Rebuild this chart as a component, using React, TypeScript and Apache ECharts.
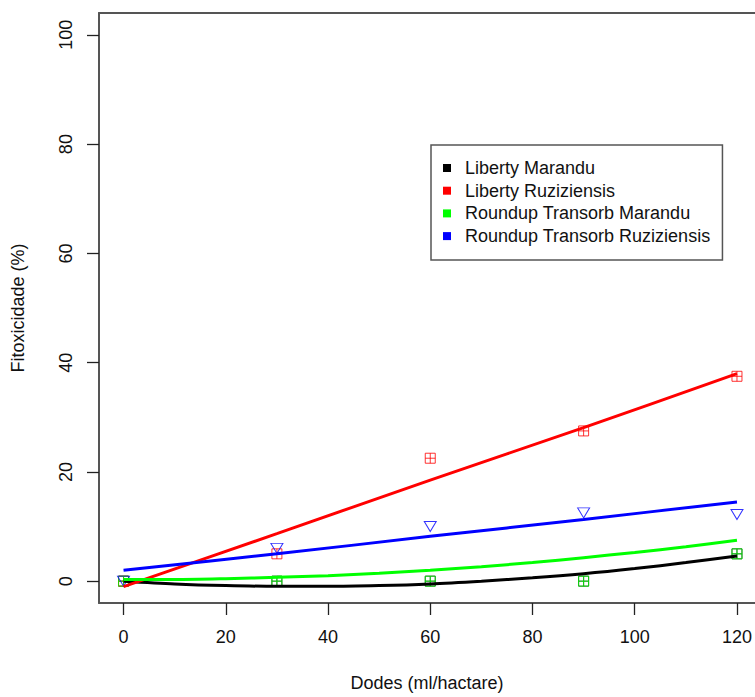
import React, { useEffect, useRef } from "react";
import * as echarts from "echarts";

// observed doses
const doses = [0, 30, 60, 90, 120];
// observed phytotoxicity (%)
const obsLibertyMarandu = [0, 0, 0, 0, 5];
const obsLibertyRuziziensis = [0, 5, 22.5, 27.5, 37.5];
const obsRoundupMarandu = [0, 0, 0, 0, 5];
const obsRoundupRuziziensis = [0, 6, 10, 12.5, 12.2];

// fitted curves
const fitXFine = [0, 10, 20, 30, 40, 50, 60, 70, 80, 90, 100, 110, 120];
const fitLibertyMarandu = [0, -0.5, -0.8, -0.95, -0.95, -0.8, -0.5, 0, 0.6, 1.35, 2.3, 3.4, 4.6];
const fitRoundupMarandu = [0.3, 0.3, 0.45, 0.7, 1.0, 1.45, 2.0, 2.65, 3.4, 4.3, 5.25, 6.3, 7.5];
const fitXCoarse = [0, 30, 60, 90, 120];
const fitLibertyRuziziensis = [-1, 8.7, 18.5, 28.1, 38];
const fitRoundupRuziziensis = [2.0, 5.0, 8.2, 11.3, 14.5];

const seriesNames = [
  "Liberty Marandu",
  "Liberty Ruziziensis",
  "Roundup Transorb Marandu",
  "Roundup Transorb Ruziziensis",
];
const seriesColors = ["#000000", "#ff0000", "#00ff00", "#0000ff"];

const xTicks = [0, 20, 40, 60, 80, 100, 120];
const yTicks = [0, 20, 40, 60, 80, 100];

const FONT = "'Liberation Sans', Arial, sans-serif";
const SQUARE_PLUS = "path://M0,0H10V10H0Z M5,0V10 M0,5H10";

export default function App() {
  const ref = useRef<HTMLDivElement>(null);

  useEffect(() => {
    if (!ref.current) return;
    const chart = echarts.init(ref.current, null, { renderer: "svg" });

    const pairs = (xs: number[], ys: number[]) => xs.map((x, i) => [x, ys[i]]);

    const fits = [
      pairs(fitXFine, fitLibertyMarandu),
      pairs(fitXCoarse, fitLibertyRuziziensis),
      pairs(fitXFine, fitRoundupMarandu),
      pairs(fitXCoarse, fitRoundupRuziziensis),
    ];
    const obs = [
      pairs(doses, obsLibertyMarandu),
      pairs(doses, obsLibertyRuziziensis),
      pairs(doses, obsRoundupMarandu),
      pairs(doses, obsRoundupRuziziensis),
    ];

    const lineSeries = seriesNames.map((name, i) => ({
      name,
      type: "line",
      data: fits[i],
      smooth: 0.3,
      showSymbol: false,
      symbol: "none",
      z: 3,
      color: seriesColors[i],
      itemStyle: { color: seriesColors[i] },
      lineStyle: { color: seriesColors[i], width: 3 },
    }));

    const scatterSeries = seriesNames.map((name, i) => ({
      name: name + " (observado)",
      type: "scatter",
      data: obs[i],
      z: 2,
      symbol: i === 3 ? "triangle" : SQUARE_PLUS,
      symbolRotate: i === 3 ? 180 : 0,
      symbolSize: i === 3 ? [12, 10] : 10,
      itemStyle: { color: "none", borderColor: seriesColors[i], borderWidth: 1 },
    }));

    chart.setOption({
      animation: false,
      backgroundColor: "#ffffff",
      textStyle: { fontFamily: FONT },
      grid: { left: 99, top: 13, right: 0, bottom: 91, containLabel: false },
      legend: {
        data: seriesNames,
        orient: "vertical",
        left: 431,
        top: 145,
        icon: "rect",
        itemWidth: 8,
        itemHeight: 8,
        itemGap: 4.7,
        selectedMode: false,
        borderColor: "#555555",
        borderWidth: 1.5,
        padding: [14, 12, 15, 12],
        textStyle: { fontSize: 18, color: "#111111", fontFamily: FONT, padding: [0, 0, 0, 9] },
      },
      xAxis: [
        {
          type: "value",
          min: -4.8,
          max: 123.5,
          name: "Dodes (ml/hactare)",
          nameLocation: "middle",
          nameGap: 71,
          nameTextStyle: { fontSize: 18, color: "#111111", fontFamily: FONT },
          splitLine: { show: false },
          axisLine: { show: true, onZero: false, lineStyle: { color: "#555555", width: 2 } },
          axisTick: { show: true, length: 12, customValues: xTicks, lineStyle: { color: "#222222", width: 1.3 } },
          axisLabel: {
            show: true,
            customValues: xTicks,
            margin: 25,
            fontSize: 18,
            color: "#111111",
            fontFamily: FONT,
          },
        },
        {
          type: "value",
          position: "top",
          min: -4.8,
          max: 123.5,
          splitLine: { show: false },
          axisLine: { show: true, onZero: false, lineStyle: { color: "#555555", width: 2 } },
          axisTick: { show: false },
          axisLabel: { show: false },
        },
      ],
      yAxis: {
        type: "value",
        min: -4,
        max: 104,
        name: "Fitoxicidade (%)",
        nameLocation: "middle",
        nameGap: 72,
        nameRotate: 90,
        nameTextStyle: { fontSize: 18, color: "#111111", fontFamily: FONT },
        splitLine: { show: false },
        axisLine: { show: true, onZero: false, lineStyle: { color: "#555555", width: 2 } },
        axisTick: { show: true, length: 12, customValues: yTicks, lineStyle: { color: "#222222", width: 1.3 } },
        axisLabel: {
          show: true,
          customValues: yTicks,
          rotate: 90,
          margin: 24,
          fontSize: 18,
          color: "#111111",
          fontFamily: FONT,
        },
      },
      series: [...lineSeries, ...scatterSeries],
    });

    return () => chart.dispose();
  }, []);

  return (
    <div
      ref={ref}
      style={{ position: "fixed", left: 0, top: 0, width: 755, height: 697, background: "#fff" }}
    />
  );
}
